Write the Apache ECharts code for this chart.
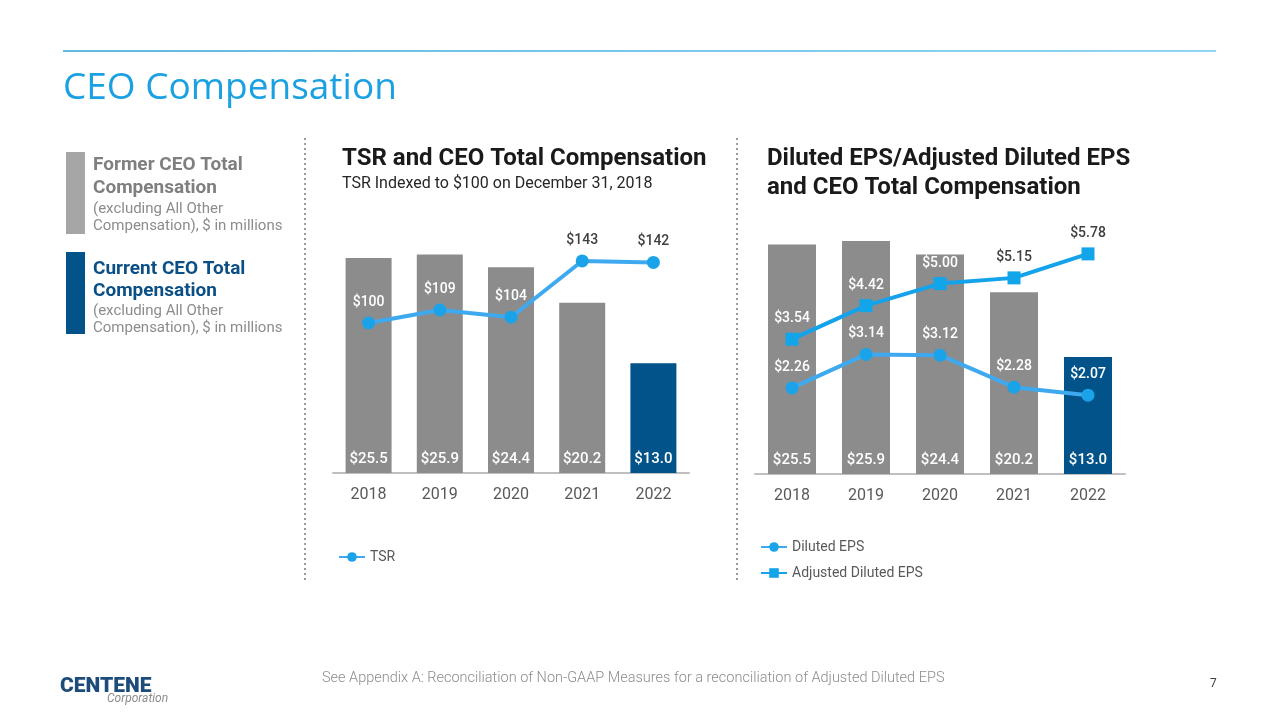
<!DOCTYPE html>
<html>
<head>
<meta charset="utf-8">
<script src="https://cdn.jsdelivr.net/npm/echarts@6/dist/echarts.min.js"></script>
<style>
html,body{margin:0;padding:0;background:#fff;}
#c{width:1280px;height:720px;}
</style>
</head>
<body>
<div id="c"></div>
<script>
// ---- data ----
const years = ['2018', '2019', '2020', '2021', '2022'];
const ceoComp = [25.5, 25.9, 24.4, 20.2, 13.0];           // $ in millions
const ceoHolder = ['former', 'former', 'former', 'former', 'current'];
const tsr = [100, 109, 104, 143, 142];
const dilutedEps = [2.26, 3.14, 3.12, 2.28, 2.07];
const adjDilutedEps = [3.54, 4.42, 5.00, 5.15, 5.78];
// label colour: true = label sits over a bar (white)
const tsrLabelOnBar = [true, true, true, false, false];
const epsLabelOnBar = [true, true, true, true, true];
const adjLabelOnBar = [true, true, true, false, false];

const GRAY = '#8c8c8c';
const NAVY = '#02538a';
const LINE = '#3fa9f0';
const MARK = '#1aa3e8';
const FONT = 'Roboto, "Noto Sans", sans-serif';

const barColor = h => h === 'current' ? NAVY : GRAY;
const barData = ceoComp.map((v, i) => ({ value: v, itemStyle: { color: barColor(ceoHolder[i]) } }));
const lineData = (vals, onBar) => vals.map((v, i) => ({
  value: v,
  label: { color: onBar[i] ? '#ffffff' : '#404040' }
}));
const money2 = p => '$' + Number(p.value).toFixed(2);
const money0 = p => '$' + Math.round(p.value);
const money1 = p => '$' + Number(p.value).toFixed(1);

const chart = echarts.init(document.getElementById('c'), null, { renderer: 'canvas' });

const barLabel = {
  show: true, position: 'insideBottom', distance: 6,
  color: '#ffffff', fontFamily: FONT, fontSize: 15, fontWeight: 500,
  formatter: money1
};
const xAxisCommon = {
  type: 'category', data: years,
  axisLine: { lineStyle: { color: '#bfbfbf', width: 2 } },
  axisTick: { show: false },
  axisLabel: { color: '#595959', fontFamily: FONT, fontSize: 16, margin: 14 }
};
const hiddenY = { type: 'value', show: false, splitLine: { show: false } };

function txt(x, y, text, size, color, weight, extra) {
  return Object.assign({
    type: 'text', left: x, top: y,
    style: { text: text, fill: color, font: (weight || 'normal') + ' ' + size + 'px ' + FONT }
  }, extra || {});
}

chart.setOption({
  animation: false,
  grid: [
    { left: 333, width: 356, top: 220, height: 253 },
    { left: 755, width: 370, top: 204, height: 270 }
  ],
  xAxis: [
    Object.assign({ gridIndex: 0 }, xAxisCommon),
    Object.assign({ gridIndex: 1 }, xAxisCommon)
  ],
  yAxis: [
    Object.assign({ gridIndex: 0, min: 0, max: 30 }, hiddenY),
    Object.assign({ gridIndex: 0, min: -4, max: 171.4 }, hiddenY),
    Object.assign({ gridIndex: 1, min: 0, max: 30 }, hiddenY),
    Object.assign({ gridIndex: 1, min: 0, max: 7.09 }, hiddenY)
  ],
  legend: [
    {
      left: 333, top: 545, itemWidth: 26, itemHeight: 12,
      data: ['TSR'],
      textStyle: { color: '#595959', fontFamily: FONT, fontSize: 14 }
    },
    {
      left: 755, top: 535, orient: 'vertical', itemGap: 12, itemWidth: 26, itemHeight: 12,
      data: ['Diluted EPS', 'Adjusted Diluted EPS'],
      textStyle: { color: '#595959', fontFamily: FONT, fontSize: 14 }
    }
  ],
  series: [
    {
      name: 'CEO Total Compensation', type: 'bar', xAxisIndex: 0, yAxisIndex: 0,
      data: barData, barWidth: 46, label: barLabel, z: 1
    },
    {
      name: 'TSR', type: 'line', xAxisIndex: 0, yAxisIndex: 1,
      data: lineData(tsr, tsrLabelOnBar),
      symbol: 'circle', symbolSize: 13,
      lineStyle: { color: LINE, width: 4 },
      itemStyle: { color: MARK },
      label: { show: true, position: 'top', distance: 7, fontFamily: FONT, fontSize: 14, fontWeight: 500, formatter: money0 },
      z: 3
    },
    {
      name: 'CEO Total Compensation ', type: 'bar', xAxisIndex: 1, yAxisIndex: 2,
      data: barData, barWidth: 48, label: barLabel, z: 1
    },
    {
      name: 'Diluted EPS', type: 'line', xAxisIndex: 1, yAxisIndex: 3,
      data: lineData(dilutedEps, epsLabelOnBar),
      symbol: 'circle', symbolSize: 13,
      lineStyle: { color: LINE, width: 4 },
      itemStyle: { color: MARK },
      label: { show: true, position: 'top', distance: 7, fontFamily: FONT, fontSize: 14, fontWeight: 500, formatter: money2 },
      z: 3
    },
    {
      name: 'Adjusted Diluted EPS', type: 'line', xAxisIndex: 1, yAxisIndex: 3,
      data: lineData(adjDilutedEps, adjLabelOnBar),
      symbol: 'rect', symbolSize: 13,
      lineStyle: { color: '#14a3ea', width: 4 },
      itemStyle: { color: '#12a5e9' },
      label: { show: true, position: 'top', distance: 7, fontFamily: FONT, fontSize: 14, fontWeight: 500, formatter: money2 },
      z: 3
    }
  ],
  graphic: [
    // top rule
    { type: 'line', shape: { x1: 63, y1: 51, x2: 1216, y2: 51 },
      style: { stroke: new echarts.graphic.LinearGradient(0, 0, 1, 0, [{ offset: 0, color: '#2aa2d8' }, { offset: 1, color: '#6cc8ef' }]), lineWidth: 1.5 } },
    // title
    { type: 'text', left: 63, top: 70,
      style: { text: 'CEO Compensation', fill: '#1ba1e2', font: 'normal 37px "Open Sans", sans-serif' } },
    // separators
    { type: 'line', shape: { x1: 305, y1: 138, x2: 305, y2: 580 },
      style: { stroke: '#9a9a9a', lineWidth: 2, lineDash: [2, 3] } },
    { type: 'line', shape: { x1: 737, y1: 138, x2: 737, y2: 580 },
      style: { stroke: '#9a9a9a', lineWidth: 2, lineDash: [2, 3] } },
    // left key
    { type: 'rect', shape: { x: 66, y: 152, width: 19, height: 82 }, style: { fill: '#a6a6a6' } },
    txt(93, 156, 'Former CEO Total', 19, '#7f7f7f', 'bold'),
    txt(93, 179, 'Compensation', 19, '#7f7f7f', 'bold'),
    txt(93, 202, '(excluding All Other', 15, '#8c8c8c'),
    txt(93, 219, 'Compensation), $ in millions', 15, '#8c8c8c'),
    { type: 'rect', shape: { x: 66, y: 252, width: 19, height: 82 }, style: { fill: NAVY } },
    txt(93, 260, 'Current CEO Total', 19, '#0a4f86', 'bold'),
    txt(93, 282, 'Compensation', 19, '#0a4f86', 'bold'),
    txt(93, 304, '(excluding All Other', 15, '#8c8c8c'),
    txt(93, 321, 'Compensation), $ in millions', 15, '#8c8c8c'),
    // chart titles
    txt(342, 147, 'TSR and CEO Total Compensation', 24, '#1a1a1a', 'bold'),
    txt(342, 176, 'TSR Indexed to $100 on December 31, 2018', 16, '#262626'),
    txt(767, 147, 'Diluted EPS/Adjusted Diluted EPS', 24, '#1a1a1a', 'bold'),
    txt(767, 176, 'and CEO Total Compensation', 24, '#1a1a1a', 'bold'),
    // footer
    txt(322, 671, 'See Appendix A: Reconciliation of Non-GAAP Measures for a reconciliation of Adjusted Diluted EPS', 14.5, '#8c8c8c', '300'),
    txt(1210, 678, '7', 12, '#404040'),
    txt(60, 676, 'CENTENE', 21, '#1d4c7a', '900'),
    txt(107, 693, 'Corporation', 12, '#8c8c8c', 'italic')
  ]
});
</script>
</body>
</html>
